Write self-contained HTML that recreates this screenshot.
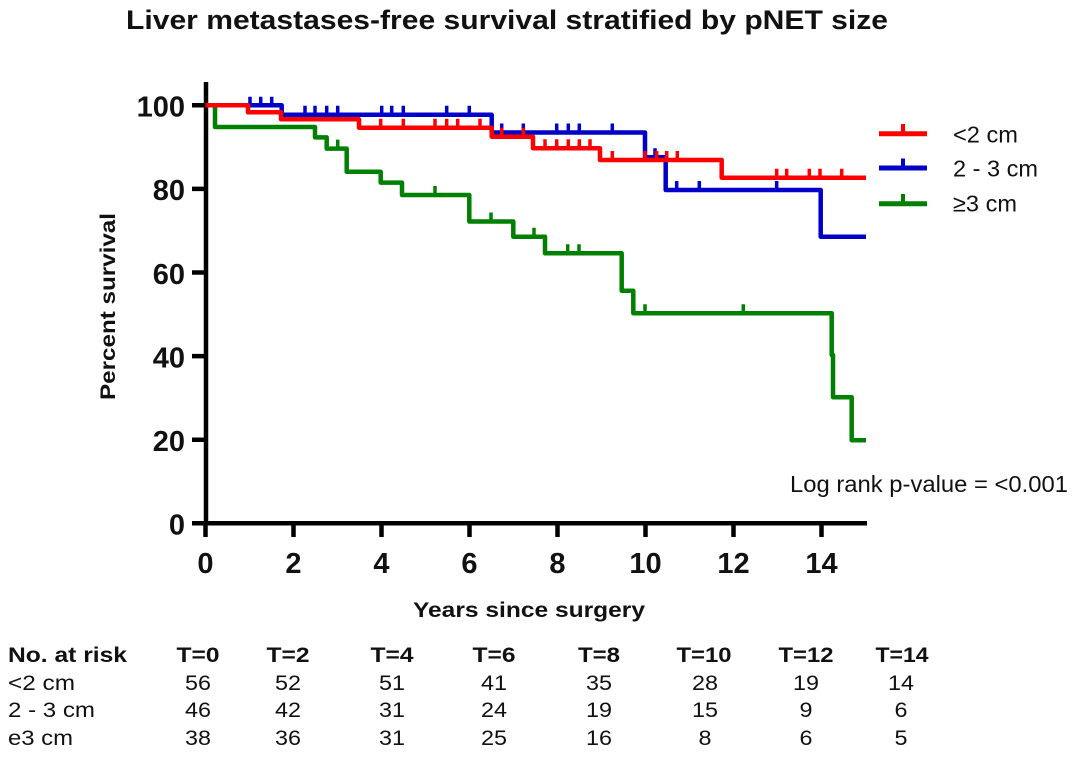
<!DOCTYPE html>
<html>
<head>
<meta charset="utf-8">
<style>
  html,body{margin:0;padding:0;background:#fff;}
  svg{display:block;}
  text{font-family:"Liberation Sans",Arial,sans-serif;fill:#111;}
  .b{font-weight:bold;}
</style>
</head>
<body>
<svg width="1080" height="757" viewBox="0 0 1080 757" xmlns="http://www.w3.org/2000/svg">
  <rect width="1080" height="757" fill="#fff"/>
  <!-- Title -->
  <text class="b" x="126" y="29" font-size="27" textLength="762" lengthAdjust="spacingAndGlyphs">Liver metastases-free survival stratified by pNET size</text>

  <!-- Axes -->
  <g stroke="#000" stroke-width="4.5" fill="none">
    <path d="M206,82 V525"/>
    <path d="M204,523.3 H867"/>
    <!-- y ticks -->
    <path d="M192,105.3 H206 M192,188.9 H206 M192,272.5 H206 M192,356.1 H206 M192,439.7 H206 M192,523.3 H206"/>
    <!-- x ticks -->
    <path d="M205.5,523 V537 M293.5,523 V537 M381.5,523 V537 M469.5,523 V537 M557.5,523 V537 M645.5,523 V537 M733.5,523 V537 M821.5,523 V537"/>
  </g>

  <!-- Y tick labels -->
  <g class="b" font-size="29" text-anchor="end">
    <text class="b" x="185" y="116.5">100</text>
    <text class="b" x="185" y="200">80</text>
    <text class="b" x="185" y="284">60</text>
    <text class="b" x="185" y="367.5">40</text>
    <text class="b" x="185" y="451">20</text>
    <text class="b" x="185" y="534.5">0</text>
  </g>
  <!-- X tick labels -->
  <g font-size="29" text-anchor="middle">
    <text class="b" x="205.5" y="573">0</text>
    <text class="b" x="293.5" y="573">2</text>
    <text class="b" x="381.5" y="573">4</text>
    <text class="b" x="469.5" y="573">6</text>
    <text class="b" x="557.5" y="573">8</text>
    <text class="b" x="645.5" y="573">10</text>
    <text class="b" x="733.5" y="573">12</text>
    <text class="b" x="821.5" y="573">14</text>
  </g>

  <!-- Axis titles -->
  <text class="b" x="413" y="617" font-size="21" textLength="232" lengthAdjust="spacingAndGlyphs">Years since surgery</text>
  <text class="b" transform="translate(115,306.5) rotate(-90)" x="0" y="0" font-size="21" text-anchor="middle" textLength="187" lengthAdjust="spacingAndGlyphs">Percent survival</text>

  <!-- Green curve -->
  <g stroke="#008000" stroke-width="4.5" fill="none" stroke-linejoin="round">
    <path d="M205.5,105.3 H215 V127 H315 V137.4 H326.7 V148.6 H346.7 V171.8 H380.7 V182.6 H402 V195 H469.3 V221.5 H513.3 V236.7 H545 V253.3 H621.7 V290.8 H633.3 V313.2 H831.7 V355 H833 V397.2 H851.7 V440.2 H866"/>
    <path stroke-width="3.5" d="M337.7,148.6 v-9 M435,195 v-9 M491,221.5 v-9 M534,236.7 v-9 M567.7,253.3 v-9 M579,253.3 v-9 M645,313.2 v-9 M743.3,313.2 v-9"/>
  </g>
  <!-- Blue curve -->
  <g stroke="#0000C8" stroke-width="4.5" fill="none" stroke-linejoin="round">
    <path d="M205.5,105.3 H281.7 V114.8 H491.7 V132.5 H645 V157.3 H665.7 V190 H820.7 V236.7 H866"/>
    <path stroke-width="3.5" d="M250,105.3 v-8.5 M260.7,105.3 v-8.5 M271.7,105.3 v-8.5
      M305,114.8 v-9 M315,114.8 v-9 M326.7,114.8 v-9 M337.7,114.8 v-9 M381.7,114.8 v-9 M391.7,114.8 v-9 M403.3,114.8 v-9 M446.7,114.8 v-9 M469.3,114.8 v-9
      M501.7,132.5 v-9 M523.3,132.5 v-9 M556.7,132.5 v-9 M568.3,132.5 v-9 M579.3,132.5 v-9 M612.3,132.5 v-9
      M655,157.3 v-9 M676.7,190 v-9 M699.3,190 v-9 M776.7,190 v-9"/>
  </g>
  <!-- Red curve -->
  <g stroke="#FF0000" stroke-width="4.5" fill="none" stroke-linejoin="round">
    <path d="M205.5,105.3 H248 V112.3 H281 V119.3 H359 V127.7 H491.7 V136.7 H533 V148.3 H600 V160 H721.7 V177.7 H866"/>
    <path stroke-width="3.5" d="M380.7,127.7 v-9 M403.3,127.7 v-9 M435,127.7 v-9 M446.7,127.7 v-9 M457.7,127.7 v-9 M480,127.7 v-9
      M501.7,136.7 v-9 M523.3,136.7 v-9
      M545,148.3 v-9 M556.7,148.3 v-9 M568.3,148.3 v-9 M579.3,148.3 v-9 M590,148.3 v-9
      M612.3,160 v-9 M645,160 v-9 M656.7,160 v-9 M666.7,160 v-9 M677.3,160 v-9
      M776.7,177.7 v-9 M786.7,177.7 v-9 M809.3,177.7 v-9 M820,177.7 v-9 M841.7,177.7 v-9"/>
  </g>

  <!-- Legend -->
  <g fill="none" stroke-width="5">
    <path stroke="#FF0000" d="M879,133.7 H927"/>
    <path stroke="#FF0000" stroke-width="4" d="M903,133.7 V124"/>
    <path stroke="#0000C8" d="M879,168 H927"/>
    <path stroke="#0000C8" stroke-width="4" d="M903,168 V158.5"/>
    <path stroke="#008000" d="M879,203.7 H927"/>
    <path stroke="#008000" stroke-width="4" d="M903,203.7 V194"/>
  </g>
  <g font-size="23.5">
    <text x="953" y="142.3" textLength="65" lengthAdjust="spacingAndGlyphs">&lt;2 cm</text>
    <text x="953" y="176.7" textLength="85" lengthAdjust="spacingAndGlyphs">2 - 3 cm</text>
    <text x="953" y="211.7" textLength="64" lengthAdjust="spacingAndGlyphs">≥3 cm</text>
  </g>

  <!-- Log rank -->
  <text x="790" y="492" font-size="23.5" textLength="278" lengthAdjust="spacingAndGlyphs">Log rank p-value = &lt;0.001</text>

  <!-- Table -->
  <g font-size="21">
    <text class="b" x="8" y="662" textLength="119" lengthAdjust="spacingAndGlyphs">No. at risk</text>
    <text x="8" y="690" textLength="67" lengthAdjust="spacingAndGlyphs">&lt;2 cm</text>
    <text x="8" y="717" textLength="87" lengthAdjust="spacingAndGlyphs">2 - 3 cm</text>
    <text x="8" y="745" textLength="65" lengthAdjust="spacingAndGlyphs">e3 cm</text>
  </g>
  <g font-size="21" text-anchor="middle">
    <text class="b" x="198" y="662" textLength="43" lengthAdjust="spacingAndGlyphs">T=0</text>
    <text class="b" x="288" y="662" textLength="43" lengthAdjust="spacingAndGlyphs">T=2</text>
    <text class="b" x="392" y="662" textLength="43" lengthAdjust="spacingAndGlyphs">T=4</text>
    <text class="b" x="494" y="662" textLength="43" lengthAdjust="spacingAndGlyphs">T=6</text>
    <text class="b" x="599" y="662" textLength="42" lengthAdjust="spacingAndGlyphs">T=8</text>
    <text class="b" x="704" y="662" textLength="55" lengthAdjust="spacingAndGlyphs">T=10</text>
    <text class="b" x="806" y="662" textLength="55" lengthAdjust="spacingAndGlyphs">T=12</text>
    <text class="b" x="902" y="662" textLength="53" lengthAdjust="spacingAndGlyphs">T=14</text>

    <text x="198" y="690" textLength="26" lengthAdjust="spacingAndGlyphs">56</text>
    <text x="288" y="690" textLength="26" lengthAdjust="spacingAndGlyphs">52</text>
    <text x="392" y="690" textLength="26" lengthAdjust="spacingAndGlyphs">51</text>
    <text x="494" y="690" textLength="26" lengthAdjust="spacingAndGlyphs">41</text>
    <text x="599" y="690" textLength="26" lengthAdjust="spacingAndGlyphs">35</text>
    <text x="705" y="690" textLength="26" lengthAdjust="spacingAndGlyphs">28</text>
    <text x="806" y="690" textLength="26" lengthAdjust="spacingAndGlyphs">19</text>
    <text x="901" y="690" textLength="26" lengthAdjust="spacingAndGlyphs">14</text>

    <text x="198" y="717" textLength="26" lengthAdjust="spacingAndGlyphs">46</text>
    <text x="288" y="717" textLength="26" lengthAdjust="spacingAndGlyphs">42</text>
    <text x="392" y="717" textLength="26" lengthAdjust="spacingAndGlyphs">31</text>
    <text x="494" y="717" textLength="26" lengthAdjust="spacingAndGlyphs">24</text>
    <text x="599" y="717" textLength="26" lengthAdjust="spacingAndGlyphs">19</text>
    <text x="705" y="717" textLength="26" lengthAdjust="spacingAndGlyphs">15</text>
    <text x="806" y="717" textLength="13" lengthAdjust="spacingAndGlyphs">9</text>
    <text x="901" y="717" textLength="13" lengthAdjust="spacingAndGlyphs">6</text>

    <text x="198" y="745" textLength="26" lengthAdjust="spacingAndGlyphs">38</text>
    <text x="288" y="745" textLength="26" lengthAdjust="spacingAndGlyphs">36</text>
    <text x="392" y="745" textLength="26" lengthAdjust="spacingAndGlyphs">31</text>
    <text x="494" y="745" textLength="26" lengthAdjust="spacingAndGlyphs">25</text>
    <text x="599" y="745" textLength="26" lengthAdjust="spacingAndGlyphs">16</text>
    <text x="705" y="745" textLength="13" lengthAdjust="spacingAndGlyphs">8</text>
    <text x="806" y="745" textLength="13" lengthAdjust="spacingAndGlyphs">6</text>
    <text x="901" y="745" textLength="13" lengthAdjust="spacingAndGlyphs">5</text>
  </g>
</svg>
</body>
</html>
